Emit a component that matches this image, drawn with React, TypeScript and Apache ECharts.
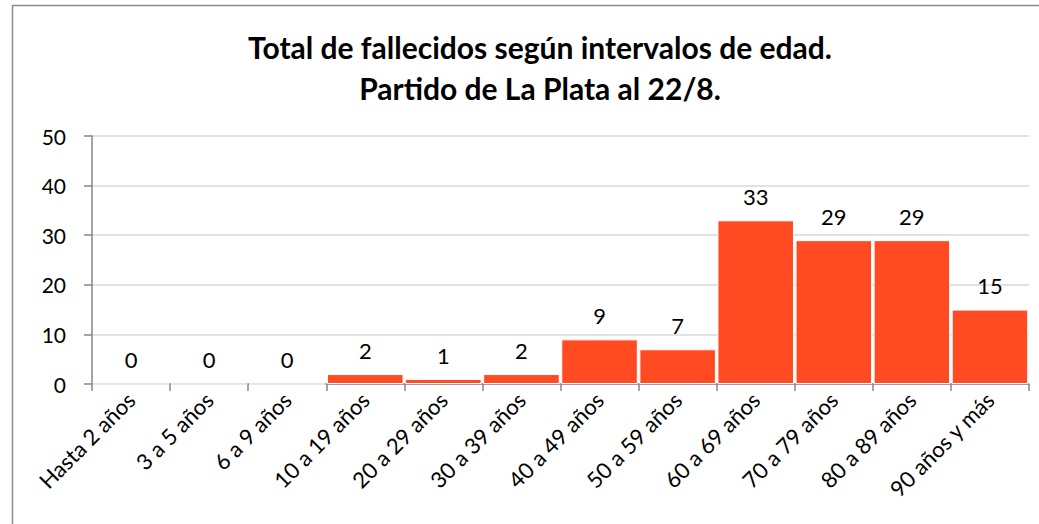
import React, { useEffect, useRef } from "react";
import * as echarts from "echarts";

const categories = [
  "Hasta 2 años", "3 a 5 años", "6 a 9 años", "10 a 19 años", "20 a 29 años", "30 a 39 años",
  "40 a 49 años", "50 a 59 años", "60 a 69 años", "70 a 79 años", "80 a 89 años", "90 años y más",
];
const deaths = [0, 0, 0, 2, 1, 2, 9, 7, 33, 29, 29, 15];
const titleLines = ["Total de fallecidos según intervalos de edad.", "Partido de La Plata al 22/8."];

const FONT = "Lato, 'Open Sans', sans-serif";

export default function App() {
  const ref = useRef<HTMLDivElement>(null);
  useEffect(() => {
    const chart = echarts.init(ref.current!, undefined, { renderer: "svg" });
    chart.setOption({
      animation: false,
      backgroundColor: "#ffffff",
      title: {
        text: titleLines.join("\n"),
        left: 535,
        textAlign: "center",
        top: 21,
        textStyle: {
          fontFamily: FONT,
          fontWeight: "bold",
          fontSize: 30,
          lineHeight: 41,
          color: "#000",
        },
      },
      graphic: [
        {
          type: "rect",
          shape: { x: 12.5, y: 5.5, width: 1040, height: 530 },
          style: { fill: "none", stroke: "#8c8c8c", lineWidth: 1.5 },
          silent: true,
        },
      ],
      grid: { left: 92, right: 10, top: 136, bottom: 140, containLabel: false },
      xAxis: {
        type: "category",
        data: categories,
        axisLine: { lineStyle: { color: "#868686", width: 1.5 } },
        axisTick: { show: true, alignWithLabel: false, length: 7, lineStyle: { color: "#868686", width: 1.5 } },
        axisLabel: {
          interval: 0,
          rotate: 45,
          fontFamily: FONT,
          fontSize: 22,
          color: "#000",
          margin: 12,
        },
      },
      yAxis: {
        type: "value",
        min: 0,
        max: 50,
        interval: 10,
        axisLine: { show: true, lineStyle: { color: "#868686", width: 1.5 } },
        axisTick: { show: true, length: 8, lineStyle: { color: "#868686", width: 1.5 } },
        splitLine: { lineStyle: { color: "#d9d9d9", width: 1.5 } },
        axisLabel: { fontFamily: FONT, fontSize: 21, color: "#000", margin: 26 },
      },
      series: [
        {
          type: "bar",
          data: deaths,
          barCategoryGap: "2%",
          itemStyle: { color: "#ff4a22", borderColor: "#ffffff", borderWidth: 1 },
          label: {
            show: true,
            position: "top",
            distance: 13,
            fontFamily: FONT,
            fontSize: 22,
            color: "#000",
          },
        },
      ],
    });
    return () => chart.dispose();
  }, []);
  return (
    <div
      ref={ref}
      style={{ position: "fixed", left: 0, top: 0, width: 1039, height: 524 }}
    />
  );
}
